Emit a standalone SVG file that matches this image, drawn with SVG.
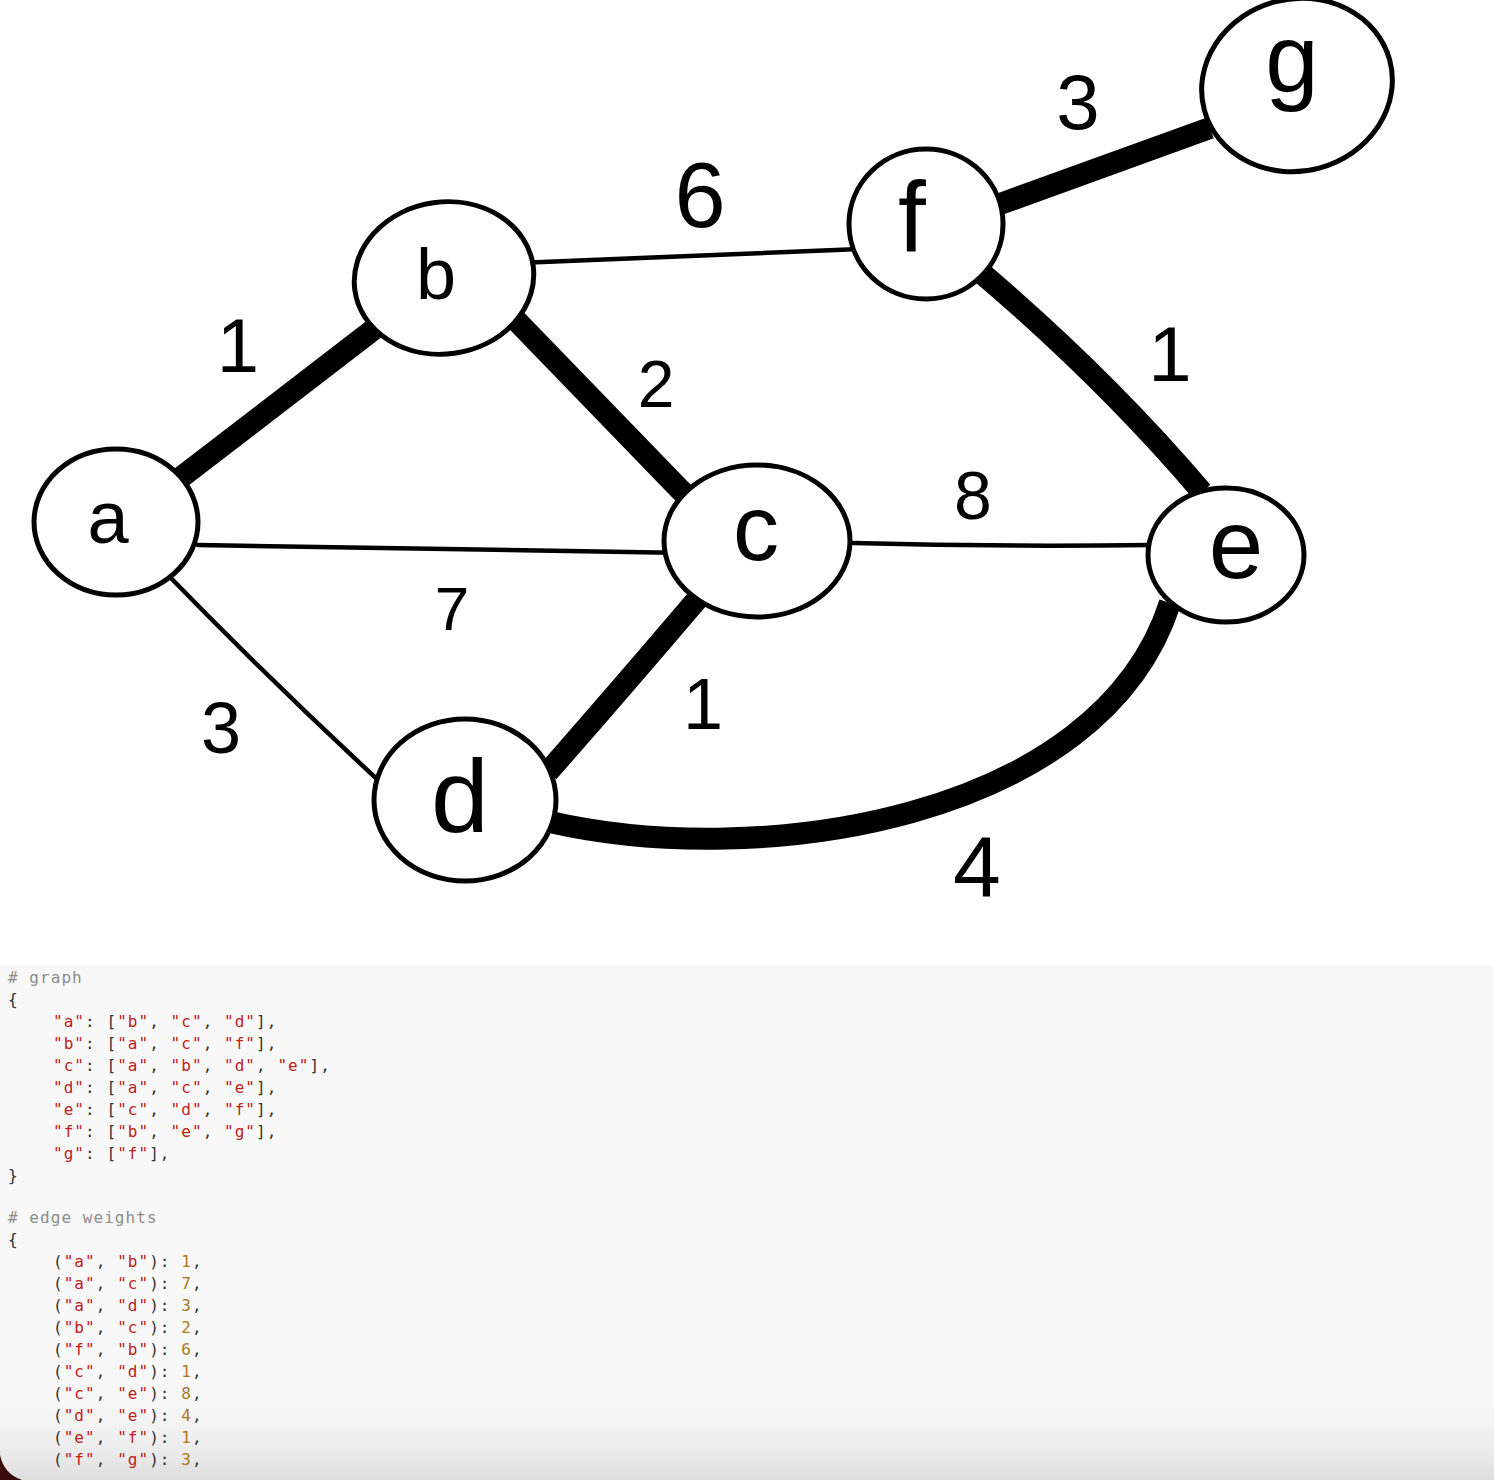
<svg xmlns="http://www.w3.org/2000/svg" width="1494" height="1480" viewBox="0 0 1494 1480">
<style>
.thin{fill:none;stroke:#000;stroke-width:4.5;stroke-linecap:round}
.thick{fill:none;stroke:#000;stroke-width:22;stroke-linecap:butt}
.node{fill:#fff;stroke:#000;stroke-width:5}
.lbl{font-family:"Liberation Sans","DejaVu Sans",sans-serif;fill:#000;text-anchor:middle}
.w{font-family:"Liberation Sans","DejaVu Sans",sans-serif;fill:#000;text-anchor:middle}
.code{font-family:"DejaVu Sans Mono","Liberation Mono",monospace;font-size:16px;letter-spacing:1.05px;fill:#333}
.cm{fill:#8c8c8c}
.s{fill:#c0201b}
.n{fill:#a8791e}
</style>
<defs>
<linearGradient id="fade" x1="0" y1="0" x2="0" y2="1">
<stop offset="0" stop-color="#f8f8f8" stop-opacity="0"/>
<stop offset="1" stop-color="#dedede"/>
</linearGradient>
</defs>
<rect x="0" y="0" width="1494" height="1480" fill="#fff"/>
<g id="connectors">
<path class="thick" d="M175,482 L378,326" stroke-width="25"/>
<path class="thin" d="M198,545 Q440,548 688,553"/>
<path class="thin" d="M163,570 Q270,680 378,780"/>
<path class="thick" d="M510,314 L692,502"/>
<path class="thin" d="M518,263 Q700,255 885,248"/>
<path class="thick" d="M700,596 Q620,690 548,772"/>
<path class="thin" d="M853,543 Q1000,547 1150,545"/>
<path class="thick" d="M550,822 C760,870 1100,820 1170,603" stroke-width="21"/>
<path class="thick" d="M978,270 Q1105,378 1202,492"/>
<path class="thick" d="M1000,204 L1210,128" stroke-width="20"/>
</g>
<g id="node-a"><ellipse class="node" cx="116" cy="522" rx="82" ry="73"/><text class="lbl" x="108" y="543" font-size="74">a</text></g>
<g id="node-b"><ellipse class="node" cx="444" cy="278" rx="90" ry="76" transform="rotate(-8 444 278)"/><text class="lbl" x="436" y="299" font-size="72">b</text></g>
<g id="node-c"><ellipse class="node" cx="757" cy="541" rx="93" ry="76"/><text class="lbl" x="756" y="560" font-size="92">c</text></g>
<g id="node-d"><ellipse class="node" cx="465" cy="800" rx="91" ry="81"/><text class="lbl" x="460" y="832" font-size="104">d</text></g>
<g id="node-e"><ellipse class="node" cx="1226" cy="555" rx="78" ry="67"/><text class="lbl" x="1236" y="578" font-size="98">e</text></g>
<g id="node-f"><ellipse class="node" cx="926" cy="224" rx="77" ry="75"/><text class="lbl" x="912" y="252" font-size="100">f</text></g>
<g id="node-g"><ellipse class="node" cx="1297" cy="85" rx="96" ry="86" transform="rotate(-15 1297 85)"/><text class="lbl" x="1292" y="92" font-size="96">g</text></g>
<g id="weights">
<text class="w" x="238" y="372" font-size="76">1</text>
<text class="w" x="452" y="630" font-size="62">7</text>
<text class="w" x="221" y="753" font-size="72">3</text>
<text class="w" x="656" y="407" font-size="66">2</text>
<text class="w" x="700" y="227" font-size="92">6</text>
<text class="w" x="703" y="729" font-size="72">1</text>
<text class="w" x="973" y="519" font-size="68">8</text>
<text class="w" x="977" y="896" font-size="86">4</text>
<text class="w" x="1170" y="381" font-size="78">1</text>
<text class="w" x="1078" y="129" font-size="78">3</text>
</g>
<g id="code">
<rect x="0" y="965" width="1494" height="515" fill="#f8f8f8"/>
<rect x="0" y="1380" width="1494" height="100" fill="url(#fade)"/>
<path d="M0,1455 Q4,1474 22,1480 L0,1480 Z" fill="#3a0a0a"/>
<text class="code"><tspan class="cm" x="8" y="983"># graph</tspan>
<tspan x="8" y="1005">{</tspan>
<tspan x="53" y="1027"><tspan class="s">"a"</tspan>: [<tspan class="s">"b"</tspan>, <tspan class="s">"c"</tspan>, <tspan class="s">"d"</tspan>],</tspan>
<tspan x="53" y="1049"><tspan class="s">"b"</tspan>: [<tspan class="s">"a"</tspan>, <tspan class="s">"c"</tspan>, <tspan class="s">"f"</tspan>],</tspan>
<tspan x="53" y="1071"><tspan class="s">"c"</tspan>: [<tspan class="s">"a"</tspan>, <tspan class="s">"b"</tspan>, <tspan class="s">"d"</tspan>, <tspan class="s">"e"</tspan>],</tspan>
<tspan x="53" y="1093"><tspan class="s">"d"</tspan>: [<tspan class="s">"a"</tspan>, <tspan class="s">"c"</tspan>, <tspan class="s">"e"</tspan>],</tspan>
<tspan x="53" y="1115"><tspan class="s">"e"</tspan>: [<tspan class="s">"c"</tspan>, <tspan class="s">"d"</tspan>, <tspan class="s">"f"</tspan>],</tspan>
<tspan x="53" y="1137"><tspan class="s">"f"</tspan>: [<tspan class="s">"b"</tspan>, <tspan class="s">"e"</tspan>, <tspan class="s">"g"</tspan>],</tspan>
<tspan x="53" y="1159"><tspan class="s">"g"</tspan>: [<tspan class="s">"f"</tspan>],</tspan>
<tspan x="8" y="1181">}</tspan>
<tspan class="cm" x="8" y="1223"># edge weights</tspan>
<tspan x="8" y="1245">{</tspan>
<tspan x="53" y="1267">(<tspan class="s">"a"</tspan>, <tspan class="s">"b"</tspan>): <tspan class="n">1</tspan>,</tspan>
<tspan x="53" y="1289">(<tspan class="s">"a"</tspan>, <tspan class="s">"c"</tspan>): <tspan class="n">7</tspan>,</tspan>
<tspan x="53" y="1311">(<tspan class="s">"a"</tspan>, <tspan class="s">"d"</tspan>): <tspan class="n">3</tspan>,</tspan>
<tspan x="53" y="1333">(<tspan class="s">"b"</tspan>, <tspan class="s">"c"</tspan>): <tspan class="n">2</tspan>,</tspan>
<tspan x="53" y="1355">(<tspan class="s">"f"</tspan>, <tspan class="s">"b"</tspan>): <tspan class="n">6</tspan>,</tspan>
<tspan x="53" y="1377">(<tspan class="s">"c"</tspan>, <tspan class="s">"d"</tspan>): <tspan class="n">1</tspan>,</tspan>
<tspan x="53" y="1399">(<tspan class="s">"c"</tspan>, <tspan class="s">"e"</tspan>): <tspan class="n">8</tspan>,</tspan>
<tspan x="53" y="1421">(<tspan class="s">"d"</tspan>, <tspan class="s">"e"</tspan>): <tspan class="n">4</tspan>,</tspan>
<tspan x="53" y="1443">(<tspan class="s">"e"</tspan>, <tspan class="s">"f"</tspan>): <tspan class="n">1</tspan>,</tspan>
<tspan x="53" y="1465">(<tspan class="s">"f"</tspan>, <tspan class="s">"g"</tspan>): <tspan class="n">3</tspan>,</tspan></text>
</g>
</svg>
